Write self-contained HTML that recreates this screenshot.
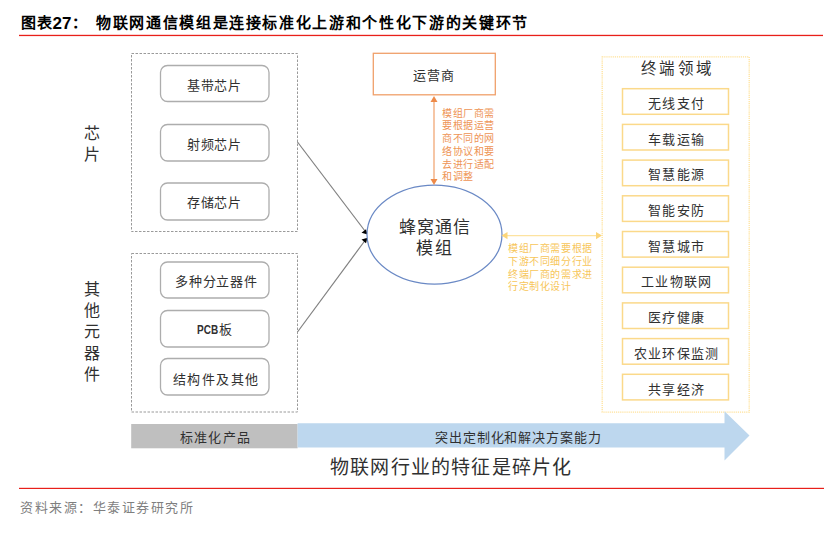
<!DOCTYPE html>
<html lang="zh-CN"><head><meta charset="utf-8">
<style>
html,body{margin:0;padding:0;background:#fff;width:835px;height:534px;overflow:hidden}
body{position:relative;font-family:"Liberation Sans",sans-serif;color:#303030}
.t{position:absolute;white-space:nowrap;line-height:1}
svg{position:absolute;left:0;top:0}
</style></head><body>
<svg width="835" height="534" viewBox="0 0 835 534">
  <!-- red lines -->
  <rect x="19" y="34.8" width="804" height="1.3" fill="#E8201A"/>
  <rect x="19" y="487.8" width="805" height="1.2" fill="#E8201A"/>
  <!-- dashed boxes -->
  <rect x="131.5" y="53.5" width="166" height="178" fill="none" stroke="#9A9A9A" stroke-width="1" stroke-dasharray="2.5 1.5"/>
  <rect x="131.5" y="253.5" width="166" height="158.5" fill="none" stroke="#9A9A9A" stroke-width="1" stroke-dasharray="2.5 1.5"/>
  <!-- rounded boxes -->
  <g fill="#fff" stroke="#ADADAD" stroke-width="1.3">
    <rect x="160.5" y="65.5" width="108.5" height="36" rx="7"/>
    <rect x="160.5" y="124.5" width="108.5" height="36.5" rx="7"/>
    <rect x="160.5" y="183" width="108.5" height="37" rx="7"/>
    <rect x="160.5" y="262" width="108.5" height="36" rx="7"/>
    <rect x="160.5" y="310.5" width="108.5" height="36.5" rx="7"/>
    <rect x="160.5" y="358.5" width="108.5" height="36.5" rx="7"/>
  </g>
  <!-- connector lines -->
  <line x1="297.5" y1="142" x2="365" y2="231" stroke="#808080" stroke-width="1.2"/>
  <line x1="297.5" y1="332" x2="365" y2="240.5" stroke="#808080" stroke-width="1.2"/>
  <polygon points="361.5,232.8 366,229.2 367.6,234.6" fill="#000"/>
  <polygon points="361.5,239.6 367.6,237.8 366,243.2" fill="#000"/>
  <!-- ellipse -->
  <ellipse cx="434.5" cy="234.5" rx="67.5" ry="49.5" fill="#fff" stroke="#6A89C5" stroke-width="1.25"/>
  <!-- operator box -->
  <rect x="373.3" y="53.3" width="122" height="41.5" fill="#fff" stroke="#F0A06A" stroke-width="1.3"/>
  <!-- orange double arrow -->
  <line x1="434" y1="100" x2="434" y2="181" stroke="#F0A06A" stroke-width="1.2"/>
  <polygon points="434,96 430.5,102 437.5,102" fill="#EE8A48"/>
  <polygon points="434,185 430.5,179 437.5,179" fill="#EE8A48"/>
  <!-- yellow double arrow -->
  <line x1="505" y1="235.6" x2="598" y2="235.6" stroke="#FDE3A0" stroke-width="1.2"/>
  <polygon points="501.5,235.6 507.5,232 507.5,239.2" fill="#FBD57A"/>
  <polygon points="602,235.6 596,232 596,239.2" fill="#FBD57A"/>
  <!-- terminal dotted box -->
  <rect x="602.2" y="56.9" width="147" height="355.2" fill="none" stroke="#FFE29A" stroke-width="1.3" stroke-dasharray="1.2 0.9"/>
  <!-- terminal boxes -->
  <g fill="#fff" stroke="#FBD98A" stroke-width="1.5">
    <rect x="622.5" y="88.7" width="106" height="25.6"/>
    <rect x="622.5" y="124.4" width="106" height="25.6"/>
    <rect x="622.5" y="160.1" width="106" height="25.6"/>
    <rect x="622.5" y="195.8" width="106" height="25.6"/>
    <rect x="622.5" y="231.5" width="106" height="25.6"/>
    <rect x="622.5" y="267.2" width="106" height="25.6"/>
    <rect x="622.5" y="302.9" width="106" height="25.6"/>
    <rect x="622.5" y="338.6" width="106" height="25.6"/>
    <rect x="622.5" y="374.3" width="106" height="25.6"/>
  </g>
  <!-- bottom bar -->
  <rect x="131.2" y="424" width="166.4" height="24.3" fill="#BFBFBF"/>
  <polygon points="297.6,423.2 724.5,423.2 724.5,411.2 749.5,435.5 724.5,460.5 724.5,447.6 297.6,447.6" fill="#BDD7EE"/>
</svg>

<div class="t" style="left:21px;top:15px;font-size:15px;font-weight:bold;color:#000;letter-spacing:1px">图表</div>
<div class="t" style="left:52.5px;top:15px;font-size:17px;font-weight:bold;color:#000">27</div>
<div class="t" style="left:72px;top:15px;font-size:15px;font-weight:bold;color:#000">：</div>
<div class="t" style="left:96px;top:15px;font-size:15px;font-weight:bold;color:#000;letter-spacing:1.65px">物联网通信模组是连接标准化上游和个性化下游的关键环节</div>

<div class="t" style="left:84px;top:123px;font-size:16px;line-height:21px;white-space:normal;width:18px">芯<br>片</div>
<div class="t" style="left:84px;top:279px;font-size:16px;line-height:21.2px;white-space:normal;width:18px">其<br>他<br>元<br>器<br>件</div>

<div class="t" style="left:187px;top:79px;font-size:13px;letter-spacing:0.6px">基带芯片</div>
<div class="t" style="left:187px;top:138px;font-size:13px;letter-spacing:0.6px">射频芯片</div>
<div class="t" style="left:187px;top:196px;font-size:13px;letter-spacing:0.6px">存储芯片</div>
<div class="t" style="left:175px;top:275px;font-size:13px;letter-spacing:0.8px">多种分立器件</div>
<div class="t" style="left:197px;top:323px;font-size:13px;"><span style="display:inline-block;transform:scaleX(0.74);transform-origin:0 0;width:21.5px;font-weight:bold;font-size:13.5px">PCB</span>板</div>
<div class="t" style="left:173px;top:373px;font-size:13px;letter-spacing:1.4px">结构件及其他</div>

<div class="t" style="left:413px;top:69px;font-size:13px;letter-spacing:1.15px">运营商</div>
<div class="t" style="left:442px;top:107.5px;font-size:10px;line-height:12.76px;white-space:normal;width:60px;letter-spacing:0.6px;color:#EE9455">模组厂商需<br>要根据运营<br>商不同的网<br>络协议和要<br>去进行适配<br>和调整</div>

<div class="t" style="left:399px;top:219px;font-size:17px;letter-spacing:0.9px">蜂窝通信</div>
<div class="t" style="left:416px;top:240px;font-size:17px;letter-spacing:1.5px">模组</div>

<div class="t" style="left:508px;top:243px;font-size:10px;line-height:12.8px;white-space:normal;width:100px;letter-spacing:0.6px;color:#F7C65A">模组厂商需要根据<br>下游不同细分行业<br>终端厂商的需求进<br>行定制化设计</div>

<div class="t" style="left:640.5px;top:60.5px;font-size:15.5px;letter-spacing:2.6px">终端领域</div>
<div class="t" style="left:648px;top:97px;font-size:13px;letter-spacing:1.3px">无线支付</div>
<div class="t" style="left:648px;top:132.7px;font-size:13px;letter-spacing:1.3px">车载运输</div>
<div class="t" style="left:648px;top:168.4px;font-size:13px;letter-spacing:1.3px">智慧能源</div>
<div class="t" style="left:648px;top:203.5px;font-size:13px;letter-spacing:1.3px">智能安防</div>
<div class="t" style="left:648px;top:239.5px;font-size:13px;letter-spacing:1.3px">智慧城市</div>
<div class="t" style="left:641px;top:275px;font-size:13px;letter-spacing:1.3px">工业物联网</div>
<div class="t" style="left:648px;top:311px;font-size:13px;letter-spacing:1.3px">医疗健康</div>
<div class="t" style="left:634px;top:346.5px;font-size:13px;letter-spacing:1.2px">农业环保监测</div>
<div class="t" style="left:648px;top:383px;font-size:13px;letter-spacing:1.3px">共享经济</div>

<div class="t" style="left:180px;top:431px;font-size:13px;letter-spacing:1.2px">标准化产品</div>
<div class="t" style="left:435px;top:430.5px;font-size:13px;letter-spacing:0.9px">突出定制化和解决方案能力</div>
<div class="t" style="left:330px;top:458px;font-size:19px;letter-spacing:1.2px">物联网行业的特征是碎片化</div>

<div class="t" style="left:20px;top:501px;font-size:13px;letter-spacing:1.5px;color:#7F7F7F">资料来源：华泰证券研究所</div>
</body></html>
